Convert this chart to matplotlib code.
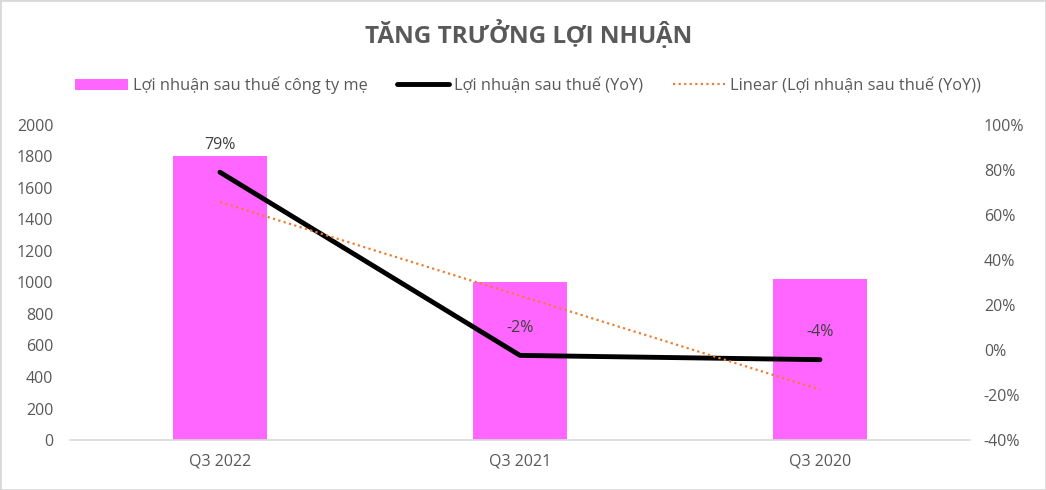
import matplotlib.pyplot as plt
import numpy as np
from matplotlib.patches import Rectangle

plt.rcParams['font.family'] = ['Open Sans', 'DejaVu Sans']

quarters = ["Q3 2022", "Q3 2021", "Q3 2020"]
profit = [1800, 1000, 1022]          # Lợi nhuận sau thuế công ty mẹ
yoy = [79, -2.4, -4.3]               # Lợi nhuận sau thuế (YoY), %
yoy_labels = ["79%", "-2%", "-4%"]

txt = "#595959"
x = np.arange(len(quarters))

fig = plt.figure(figsize=(10.46, 4.9), dpi=100)
fig.patches.append(Rectangle((0, 0), 1, 1, transform=fig.transFigure,
                             fill=False, edgecolor="#D9D9D9", linewidth=2))
ax = fig.add_axes([0.0669, 0.102, 0.8604, 0.643])

bars = ax.bar(x, profit, width=0.315, color="#FF66FF", label="Lợi nhuận sau thuế công ty mẹ")
ax.set_xlim(-0.5, 2.5)
ax.set_ylim(0, 2000)
ax.set_yticks(range(0, 2001, 200))
ax.set_xticks(x)
ax.set_xticklabels(quarters)

ax2 = ax.twinx()
line, = ax2.plot(x, yoy, color="black", linewidth=3.5, solid_capstyle="round",
                 label="Lợi nhuận sau thuế (YoY)")
# linear trendline through the YoY series
k, b = np.polyfit(x, yoy, 1)
trend, = ax2.plot(x, k * x + b, color="#ED7D31", linestyle=(0, (1, 1.5)), linewidth=1.6,
                  label="Linear (Lợi nhuận sau thuế (YoY))")
ax2.set_ylim(-40, 100)
ax2.set_yticks(range(-40, 101, 20))
ax2.set_yticklabels([f"{v}%" for v in range(-40, 101, 20)])

for xi, yi, lab in zip(x, yoy, yoy_labels):
    ax2.annotate(lab, (xi, yi), xytext=(0, 14), textcoords="offset points",
                 ha="center", va="bottom", fontsize=11.5, color="#404040")

for a in (ax, ax2):
    for s in a.spines.values():
        s.set_visible(False)
    a.tick_params(length=0, labelsize=11.5, labelcolor=txt)
ax.spines["bottom"].set_visible(True)
ax.spines["bottom"].set_color("#D9D9D9")
ax.spines["bottom"].set_linewidth(1.2)
ax.tick_params(axis="x", pad=10)
ax.tick_params(axis="y", pad=12)
ax2.tick_params(axis="y", pad=10)

fig.text(0.505, 0.93, "TĂNG TRƯỞNG LỢI NHUẬN", ha="center", va="center",
         fontsize=17.5, fontweight="bold", color=txt)
fig.legend(handles=[bars, line, trend], loc="center", bbox_to_anchor=(0.505, 0.826),
           ncol=3, frameon=False, fontsize=11.8, labelcolor=txt,
           handlelength=3.2, handletextpad=0.3, columnspacing=1.8)

fig.savefig("out.png", dpi=100)
